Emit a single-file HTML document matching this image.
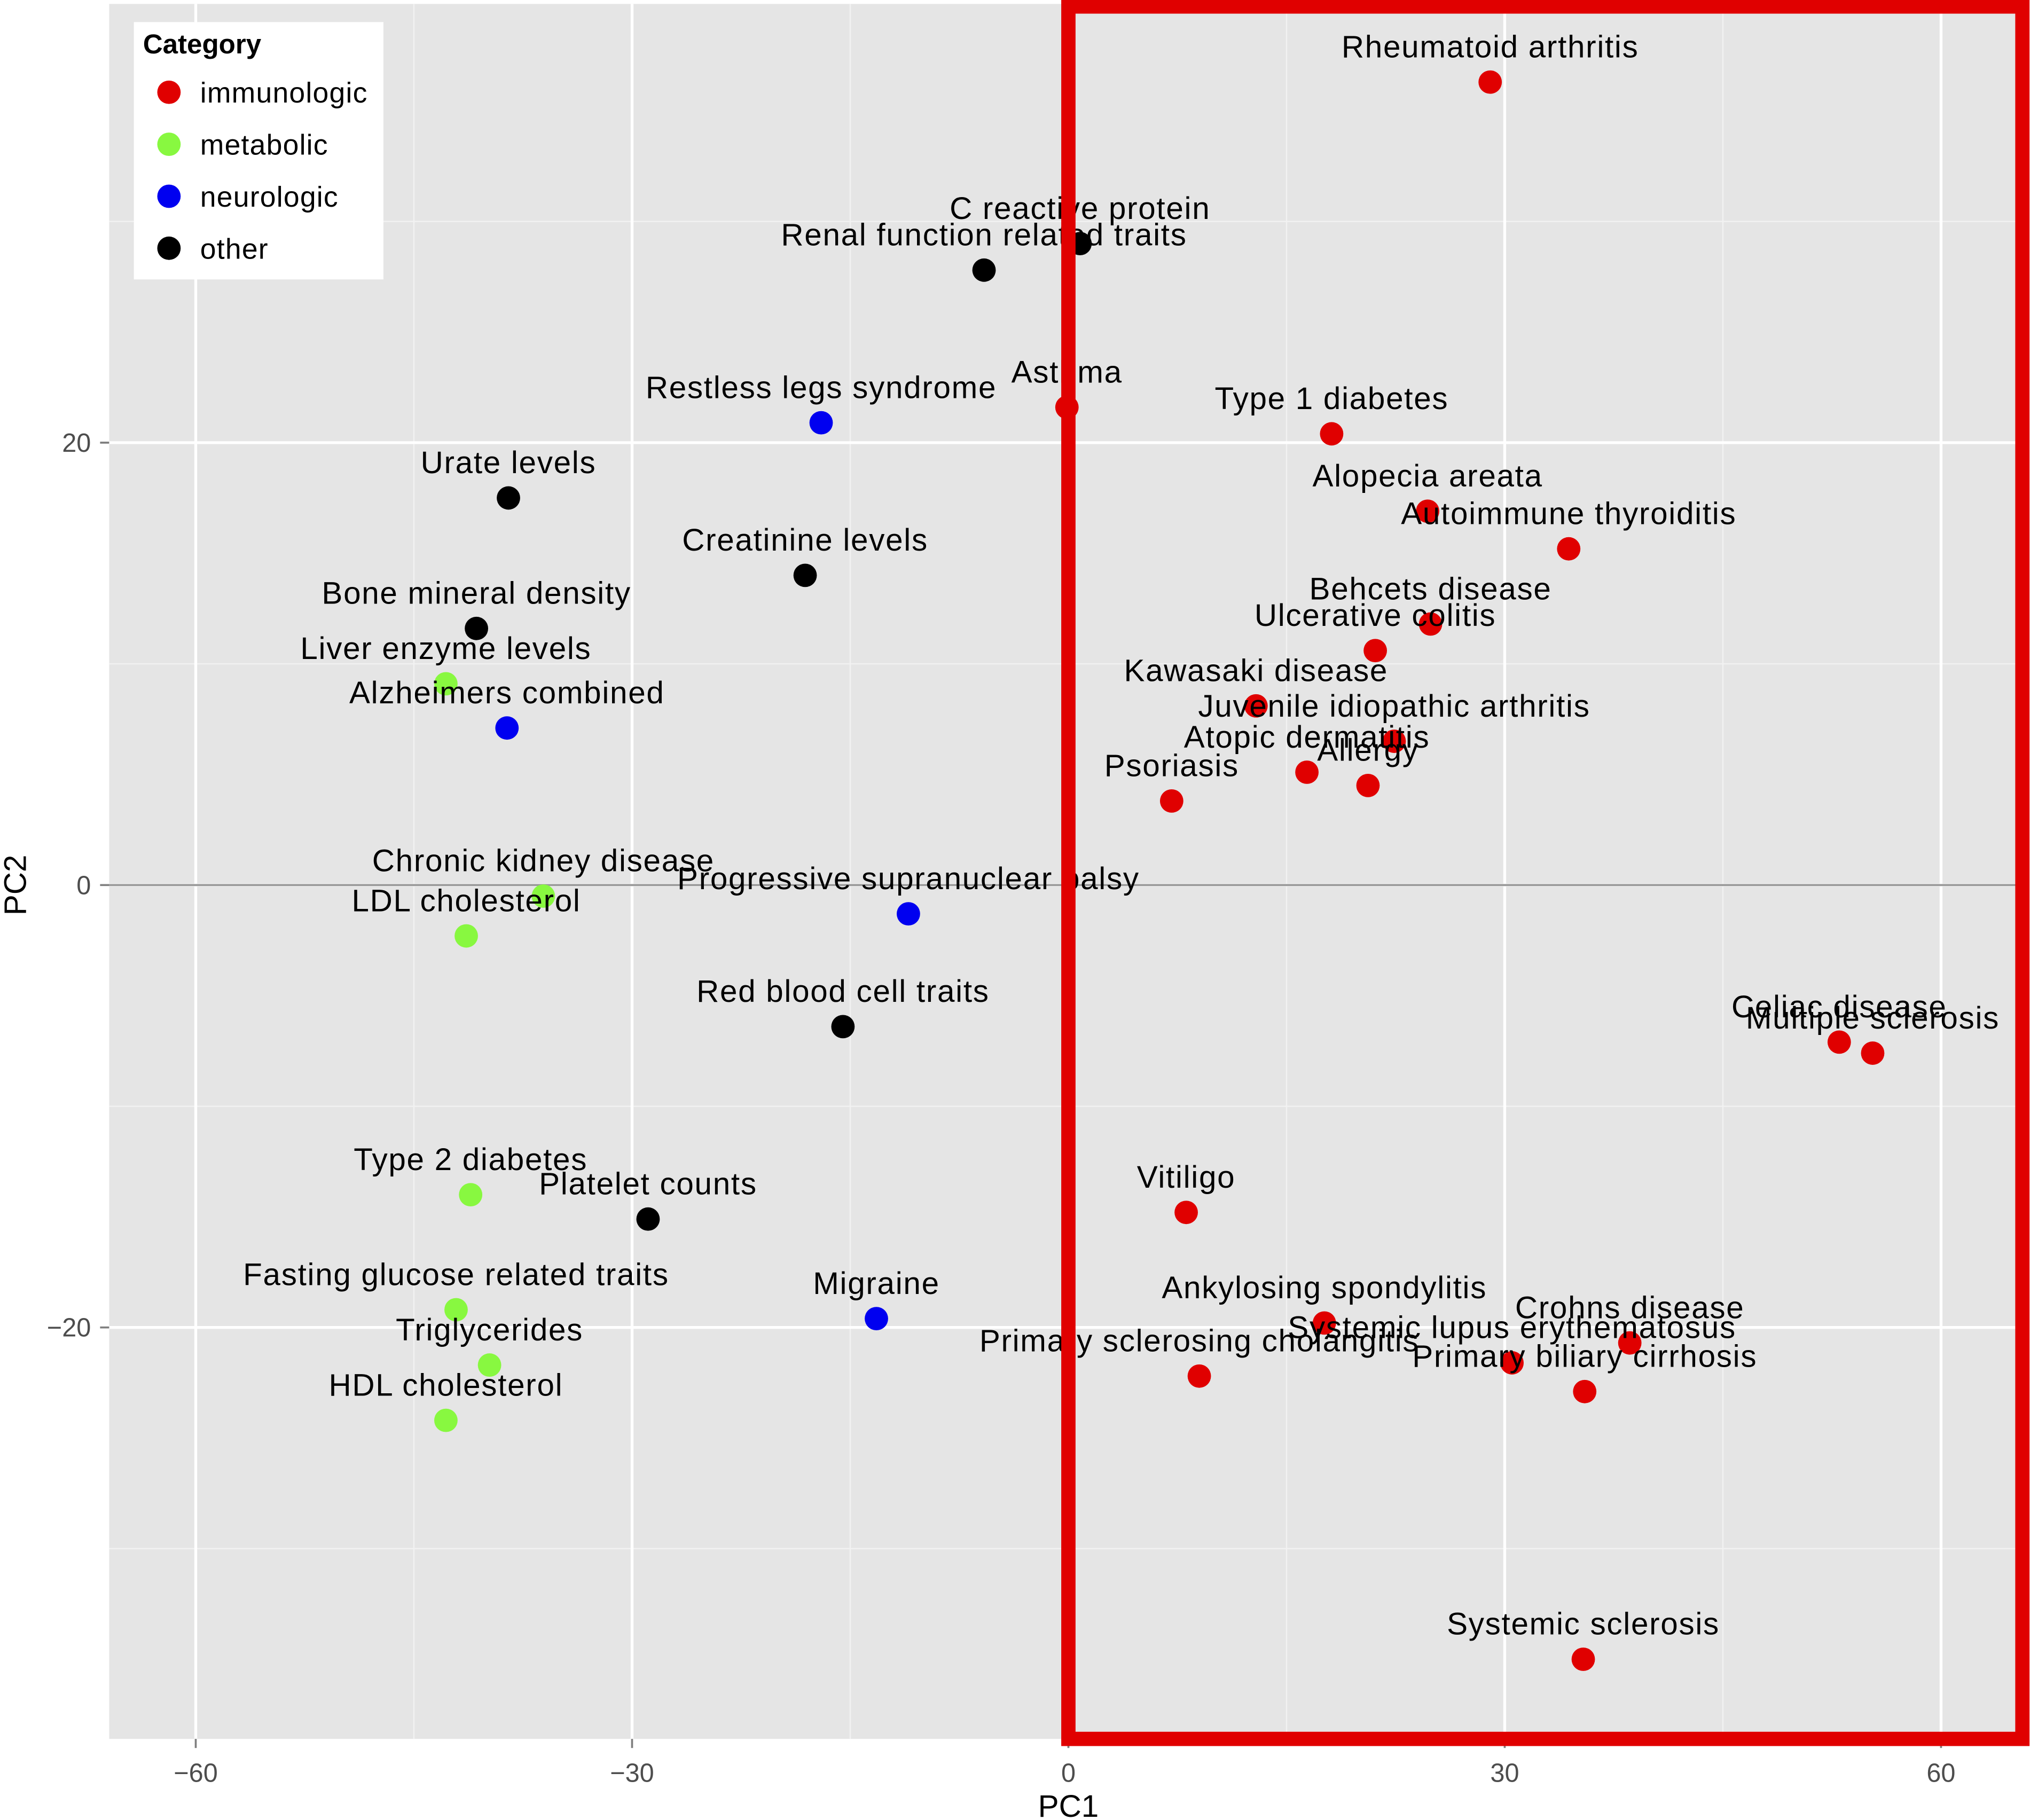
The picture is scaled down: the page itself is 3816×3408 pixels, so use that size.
<!DOCTYPE html>
<html><head><meta charset="utf-8"><style>
html,body{margin:0;padding:0;background:#fff}
svg{display:block}
text{font-family:"Liberation Sans",Arial,sans-serif}
</style></head><body>
<svg id="chart" width="3816" height="3408" viewBox="0 0 1568 1400.4" preserveAspectRatio="none" xmlns="http://www.w3.org/2000/svg">
<rect x="0" y="0" width="1568" height="1401" fill="#fff"/>
<rect x="84" y="3" width="1476" height="1335" fill="#e5e5e5"/>
<g id="grid"></g>
<g id="marks"></g>
<g id="labels"></g>
<g id="axes"></g>
<rect x="822" y="5" width="734" height="1333" fill="none" stroke="#e00000" stroke-width="11"/>
<g>
<rect x="103" y="17" width="192" height="198" fill="#fff"/>
<text x="110" y="41" font-size="21" font-weight="bold">Category</text>
<g id="legend-entries"></g>
</g>
<text x="822" y="1398" font-size="24" text-anchor="middle">PC1</text>
<text x="0" y="0" font-size="24" text-anchor="middle" transform="translate(20,681) rotate(-90)">PC2</text>
</svg>
<script>
const names=["Rheumatoid arthritis","C reactive protein","Renal function related traits","Asthma","Restless legs syndrome","Type 1 diabetes","Urate levels","Alopecia areata","Autoimmune thyroiditis","Creatinine levels","Bone mineral density","Behcets disease","Ulcerative colitis","Liver enzyme levels","Kawasaki disease","Alzheimers combined","Juvenile idiopathic arthritis","Atopic dermatitis","Allergy","Psoriasis","Chronic kidney disease","Progressive supranuclear palsy","LDL cholesterol","Red blood cell traits","Celiac disease","Multiple sclerosis","Type 2 diabetes","Platelet counts","Vitiligo","Fasting glucose related traits","Migraine","Ankylosing spondylitis","Crohns disease","Triglycerides","Systemic lupus erythematosus","Primary sclerosing cholangitis","Primary biliary cirrhosis","HDL cholesterol","Systemic sclerosis"];
const pc1=[29.0,0.8,-5.8,-0.1,-17.0,18.1,-38.5,24.7,34.4,-18.1,-40.7,24.9,21.1,-42.8,12.9,-38.6,22.4,16.4,20.6,7.1,-36.1,-11.0,-41.4,-15.5,53.0,55.3,-41.1,-28.9,8.1,-42.1,-13.2,17.6,38.6,-39.8,30.5,9.0,35.5,-42.8,35.4];
const pc2=[36.3,29.0,27.8,21.6,20.9,20.4,17.5,16.9,15.2,14.0,11.6,11.8,10.6,9.1,8.1,7.1,6.5,5.1,4.5,3.8,-0.5,-1.3,-2.3,-6.4,-7.1,-7.6,-14.0,-15.1,-14.8,-19.2,-19.6,-19.8,-20.7,-21.7,-21.6,-22.2,-22.9,-24.2,-35.0];
const cats=["immunologic","other","other","immunologic","neurologic","immunologic","other","immunologic","immunologic","other","other","immunologic","immunologic","metabolic","immunologic","neurologic","immunologic","immunologic","immunologic","immunologic","metabolic","neurologic","metabolic","other","immunologic","immunologic","metabolic","other","immunologic","metabolic","neurologic","immunologic","immunologic","metabolic","immunologic","immunologic","immunologic","metabolic","immunologic"];
const legendCats=["immunologic","metabolic","neurologic","other"];
const xTicks=[-60,-30,0,30,60];
const yTicks=[-20,0,20];
const colors={immunologic:"#e00000",metabolic:"#88f840",neurologic:"#0000f0",other:"#000000"};
const NS="http://www.w3.org/2000/svg";
const sx=v=>822+v*11.19;
const sy=v=>681-v*17.02;
function mk(tag,attrs,parent){const e=document.createElementNS(NS,tag);for(const k in attrs)e.setAttribute(k,attrs[k]);parent.appendChild(e);return e;}
const grid=document.getElementById('grid'),marks=document.getElementById('marks'),labels=document.getElementById('labels'),axes=document.getElementById('axes');
[-45,-15,15,45].forEach(v=>{const l=mk('line',{x1:sx(v),x2:sx(v),y1:3,y2:1338,stroke:'#f2f2f2','stroke-width':1},grid);

});
[-30,-10,10,30].forEach(v=>{const l=mk('line',{x1:84,x2:1560,y1:sy(v),y2:sy(v),stroke:'#f2f2f2','stroke-width':1},grid);

});
xTicks.forEach(v=>{const l=mk('line',{x1:sx(v),x2:sx(v),y1:3,y2:1338,stroke:'#fff','stroke-width':2.2},grid);


const t=mk('line',{x1:sx(v),x2:sx(v),y1:1338,y2:1345,stroke:'#7f7f7f','stroke-width':1.5},axes);


const tx=mk('text',{x:sx(v),y:1371,'font-size':20,fill:'#4d4d4d','text-anchor':'middle'},axes);tx.textContent=(v<0?'\u2212'+(-v):v);

});
yTicks.forEach(v=>{const l=mk('line',{x1:84,x2:1560,y1:sy(v),y2:sy(v),stroke:'#fff','stroke-width':2.2},grid);


const t=mk('line',{x1:77,x2:84,y1:sy(v),y2:sy(v),stroke:'#7f7f7f','stroke-width':1.5},axes);


const tx=mk('text',{x:70,y:sy(v)+7,'font-size':20,fill:'#4d4d4d','text-anchor':'end'},axes);tx.textContent=(v<0?'\u2212'+(-v):v);

});
const zl=mk('line',{x1:84,x2:1560,y1:sy(0),y2:sy(0),stroke:'#999','stroke-width':1.6},grid);


names.forEach((n,i)=>{const c=mk('circle',{cx:sx(pc1[i]),cy:sy(pc2[i]),r:9,fill:colors[cats[i]]},marks);


const t=mk('text',{x:sx(pc1[i]),y:sy(pc2[i])-19,'font-size':24,'letter-spacing':0.7,'text-anchor':'middle'},labels);t.textContent=n;

});
const le=document.getElementById('legend-entries');
legendCats.forEach((c,i)=>{const y=71+i*40;
const d=mk('circle',{cx:130,cy:y,r:9,fill:colors[c]},le);


const t=mk('text',{x:154,y:y+8,'font-size':22,'letter-spacing':0.5},le);t.textContent=c;

});
</script>
</body></html>
